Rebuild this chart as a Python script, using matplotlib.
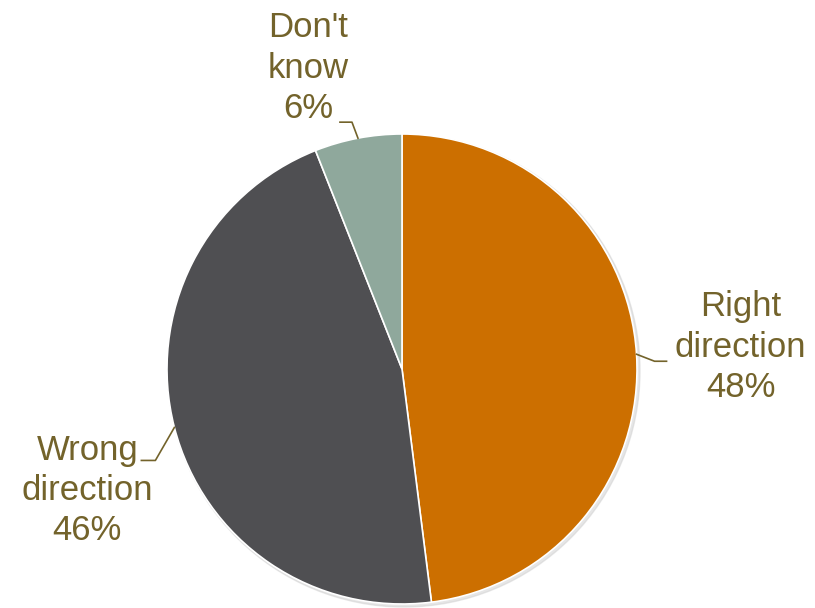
import numpy as np
import matplotlib.pyplot as plt
from matplotlib.patches import Circle

labels = ["Right\ndirection", "Wrong\ndirection", "Don't\nknow"]
shares = [48, 46, 6]
colors = ["#CC6F00", "#4F4F52", "#8FA89C"]

text_color = "#73632B"
plt.rcParams["font.family"] = ["Liberation Sans", "DejaVu Sans"]

fig = plt.figure(figsize=(8.15, 6.08), dpi=100)
ax = fig.add_axes([0, 0, 1, 1])
ax.set_xlim(0, 815)
ax.set_ylim(0, 608)
ax.axis("off")

cx, cy, r = 402, 239, 235

# soft shadow behind the pie
ax.add_patch(Circle((cx + 2, cy - 2), r + 1, color="#cfcfcf", alpha=0.5, zorder=0))

wedges, _ = ax.pie(shares, center=(cx, cy), radius=r, startangle=90,
                   counterclock=False, colors=colors,
                   wedgeprops=dict(edgecolor="white", linewidth=1.2))
ax.set_xlim(0, 815)
ax.set_ylim(0, 608)
ax.set_aspect("equal")

# leader elbow offset, line end offset, text centre offset (from anchor on rim)
layout = [
    ((18, -7), (30, -7), (104, 7)),
    ((-19, -33), (-33, -33), (-87, -63)),
    ((-6, 16), (-18, 16), (-50, 70)),
]

for w, lab, pct, (elb, end, toff) in zip(wedges, labels, shares, layout):
    mid = np.deg2rad((w.theta1 + w.theta2) / 2)
    ax_, ay_ = cx + r * np.cos(mid), cy + r * np.sin(mid)
    ax.plot([ax_, ax_ + elb[0], ax_ + end[0]],
            [ay_, ay_ + elb[1], ay_ + end[1]],
            color=text_color, lw=1.2, zorder=3)
    ax.text(ax_ + toff[0], ay_ + toff[1], f"{lab}\n{pct}%",
            ha="center", va="center", multialignment="center",
            fontsize=25, color=text_color, linespacing=1.28)

fig.savefig("out.png", dpi=100)
